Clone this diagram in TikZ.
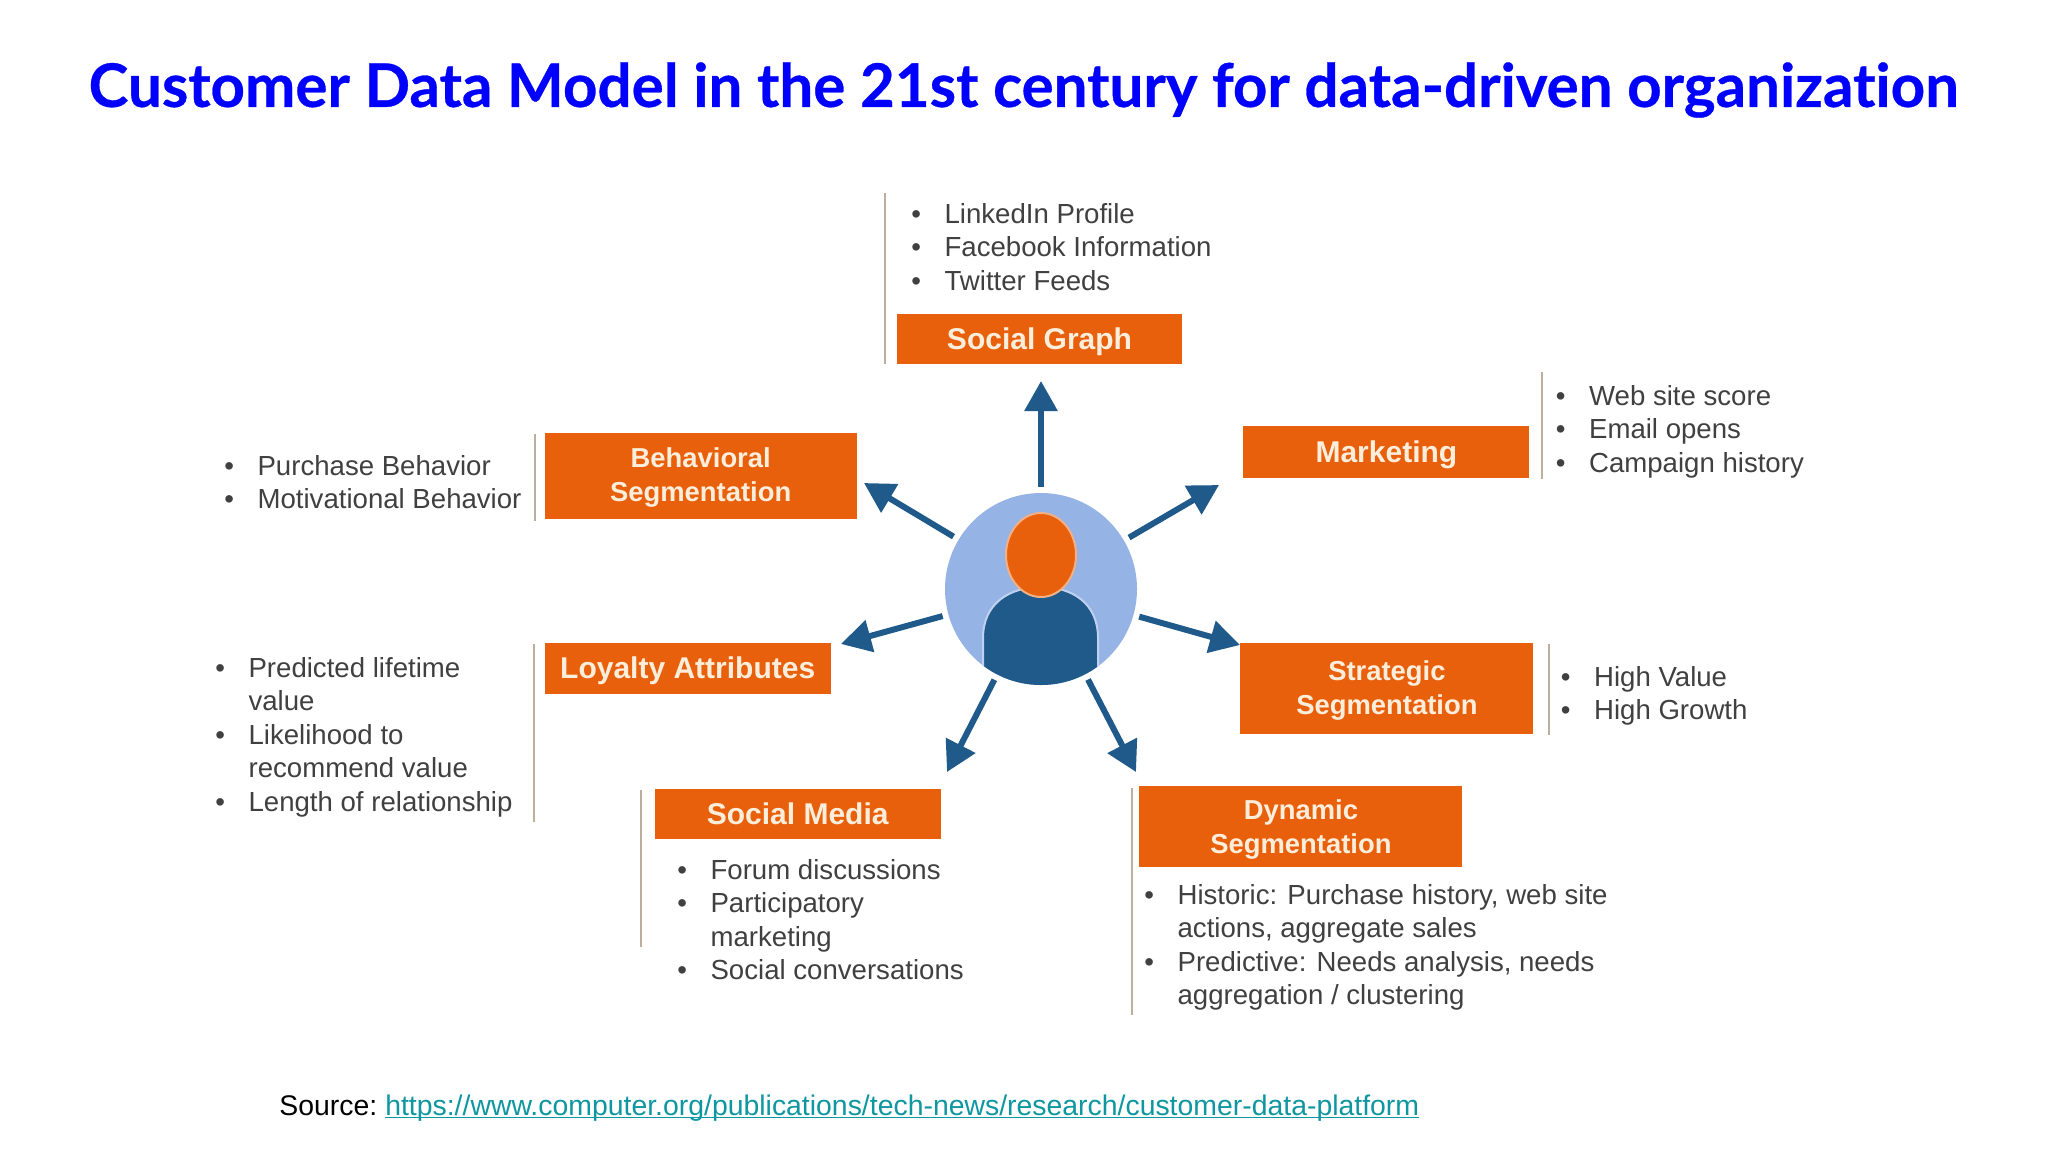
\documentclass[tikz,border=0pt]{standalone}
\usepackage{fontspec}
\setmainfont{Liberation Sans}
\newfontfamily\titlefont[Ligatures=NoCommon,BoldFeatures={FakeBold=0.5}]{Lato}
\usetikzlibrary{arrows.meta}
\definecolor{boxorange}{HTML}{E8600C}
\definecolor{flowblue}{HTML}{1F5A8A}
\definecolor{hubblue}{HTML}{95B3E4}
\definecolor{boxtext}{HTML}{FDEEDC}
\definecolor{listgray}{HTML}{404040}
\definecolor{ruletan}{HTML}{BDAE9E}
\definecolor{linkteal}{HTML}{0E97A0}
\newcommand{\lb}[1]{\rule{0pt}{10pt}\makebox[16.6pt][l]{\textbullet}#1}
\newcommand{\lc}[1]{\rule{0pt}{10pt}\hspace*{16.6pt}#1}
\newcommand{\tl}{\rule{0pt}{12pt}}
\tikzset{
  orangebox/.style={fill=boxorange, text=boxtext, align=center, inner sep=0pt},
  oneline/.style={font=\fontsize{15}{17}\selectfont\bfseries, text height=10.6pt, text depth=0pt},
  twoline/.style={font=\fontsize{13.7}{17}\selectfont\bfseries},
  listtext/.style={anchor=north west, align=left, inner sep=0pt, text=listgray, font=\fontsize{13.8}{16.7}\selectfont},
  flow/.style={flowblue, line width=3pt, -{Triangle[length=15pt,width=16pt]}},
  siderule/.style={ruletan, line width=1pt}
}
\begin{document}
\begin{tikzpicture}[x=0.5pt,y=-0.5pt]
  \useasboundingbox (0,0) rectangle (2048,1152);
  \fill [white] (0,0) rectangle (2048,1152);
  \node [text=blue, font=\fontsize{30.05}{34}\selectfont\titlefont\bfseries] (title) at (1023.5,90) {Customer Data Model in the 21st century for data-driven organization};
  % person in the middle
  \node [circle, fill=hubblue, minimum size=96pt, inner sep=0pt, outer sep=3pt] (hub) at (1041,589) {};
  \begin{scope}
    \clip (1041,589) circle [radius=96];
    \draw [fill=flowblue, draw=hubblue!60!white, line width=1pt] (983,720) -- (983,638) .. controls (983,603) and (1010,587) .. (1041,587) .. controls (1072,587) and (1098,603) .. (1098,638) -- (1098,720) -- cycle;
  \end{scope}
  \draw [fill=boxorange, draw=boxorange!50!white, line width=1pt] (1041,555) ellipse [x radius=35, y radius=42];
  % boxes
  \node [orangebox, oneline, minimum width=142.5pt, minimum height=25pt] (socialgraph) at (1039.5,339) {Social Graph};
  \node [orangebox, oneline, minimum width=143pt, minimum height=26pt] (marketing) at (1386.4,451.7) {Marketing};
  \node [orangebox, twoline, minimum width=156pt, minimum height=43pt] (behavioral) at (700.7,475.7) {\tl Behavioral\\Segmentation};
  \node [orangebox, oneline, minimum width=143pt, minimum height=25.5pt] (loyalty) at (687.7,668.2) {Loyalty Attributes};
  \node [orangebox, twoline, minimum width=146.5pt, minimum height=45.5pt] (strategic) at (1386.9,688.2) {\tl Strategic\\Segmentation};
  \node [orangebox, oneline, minimum width=143pt, minimum height=25pt] (socialmedia) at (797.7,813.7) {Social Media};
  \node [orangebox, twoline, minimum width=161.5pt, minimum height=40.5pt] (dynamic) at (1300.9,826.9) {\tl Dynamic\\Segmentation};
  % rules beside the boxes
  \foreach \rulex/\ruletop/\rulebot in {885/193/364, 1541.5/372/479, 535/434/521, 534/644/822, 1548.5/644/735, 641/790/947, 1132/788/1015}
    \draw [siderule] (\rulex,\ruletop) -- (\rulex,\rulebot);
  % lists
  \node [listtext] (socialgraphlist) at (911,203) {\lb{LinkedIn Profile}\\\lb{Facebook Information}\\\lb{Twitter Feeds}};
  \node [listtext] (marketinglist) at (1555.5,385) {\lb{Web site score}\\\lb{Email opens}\\\lb{Campaign history}};
  \node [listtext] (behaviorallist) at (224,455) {\lb{Purchase Behavior}\\\lb{Motivational Behavior}};
  \node [listtext] (loyaltylist) at (215,657) {\lb{Predicted lifetime}\\\lc{value}\\\lb{Likelihood to}\\\lc{recommend value}\\\lb{Length of relationship}};
  \node [listtext] (strategiclist) at (1560.5,666) {\lb{High Value}\\\lb{High Growth}};
  \node [listtext] (socialmedialist) at (677,859) {\lb{Forum discussions}\\\lb{Participatory}\\\lc{marketing}\\\lb{Social conversations}};
  \node [listtext] (dynamiclist) at (1144,884) {\lb{Historic: Purchase history, web site}\\\lc{actions, aggregate sales}\\\lb{Predictive: Needs analysis, needs}\\\lc{aggregation / clustering}};
  % arrows
  \coordinate (tipsocialgraph) at (1041,381);
  \coordinate (tipmarketing) at (1219,485);
  \coordinate (tipbehavioral) at (864,483);
  \coordinate (tiployalty) at (841,644);
  \coordinate (tipstrategic) at (1240,645);
  \coordinate (tipsocialmedia) at (947,772);
  \coordinate (tipdynamic) at (1136,772);
  \foreach \tipname in {socialgraph,marketing,behavioral,loyalty,strategic,socialmedia,dynamic}
    \draw [flow] (hub) -- (tip\tipname);
  \node [anchor=base west, inner sep=0pt, font=\fontsize{14.2}{16}\selectfont] (source) at (279,1115) {Source:\hspace{4pt}\textcolor{linkteal}{\underline{\smash{https://www.computer.org/publications/tech-news/research/customer-data-platform}}}};
\end{tikzpicture}
\end{document}
